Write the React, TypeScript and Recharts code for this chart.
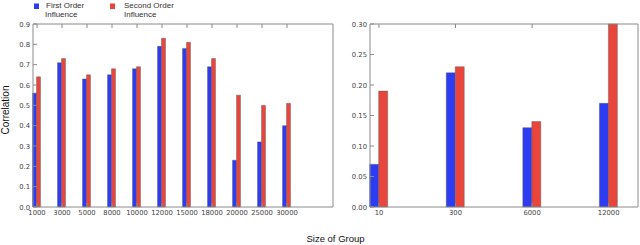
import React from "react";
import { BarChart, Bar, XAxis, YAxis } from "recharts";

// left panel: large groups
const bigGroups = ["1000", "3000", "5000", "8000", "10000", "12000", "15000", "18000", "20000", "25000", "30000"];
const bigFirst = [0.56, 0.71, 0.63, 0.65, 0.68, 0.79, 0.78, 0.69, 0.23, 0.32, 0.4];
const bigSecond = [0.64, 0.73, 0.65, 0.68, 0.69, 0.83, 0.81, 0.73, 0.55, 0.5, 0.51];
const bigTicks = [0, 0.1, 0.2, 0.3, 0.4, 0.5, 0.6, 0.7, 0.8, 0.9];

// right panel: small groups
const smallGroups = ["10", "300", "6000", "12000"];
const smallFirst = [0.07, 0.22, 0.13, 0.17];
const smallSecond = [0.19, 0.23, 0.14, 0.3];
const smallTicks = [0, 0.05, 0.1, 0.15, 0.2, 0.25, 0.3];

const BLUE = "#2b3cf2";
const RED = "#e8463c";
const FRAME = "#8a8a8a";
const TICK_FONT = "'DejaVu Sans', sans-serif";
const LABEL_FONT = "'Liberation Sans', Arial, sans-serif";

const bigData = bigGroups.map((g, i) => ({ pos: i + 0.16, group: g, first: bigFirst[i], second: bigSecond[i] }));
const smallData = smallGroups.map((g, i) => ({ pos: i + 0.117, group: g, first: smallFirst[i], second: smallSecond[i] }));

const axisLine = { stroke: FRAME, strokeWidth: 1 };

function makeYTick(plotLeft: number, digits: number) {
  return (props: any) => {
    const { y, payload } = props;
    return (
      <g>
        <line x1={plotLeft} x2={plotLeft + 4} y1={y} y2={y} stroke={FRAME} strokeWidth={1} />
        <text x={plotLeft - 3} y={y + 2.5} textAnchor="end" fontSize={6.8} fill="#444" fontFamily={TICK_FONT}>
          {Number(payload.value).toFixed(digits)}
        </text>
      </g>
    );
  };
}

function makeRightTick(plotRight: number) {
  return (props: any) => {
    const { y } = props;
    return <line x1={plotRight - 4} x2={plotRight} y1={y} y2={y} stroke={FRAME} strokeWidth={1} />;
  };
}

function makeXTick(plotBottom: number, labels: string[], shift: number) {
  return (props: any) => {
    const { x, payload } = props;
    const idx = Math.round(payload.value - shift);
    return (
      <g>
        <line x1={x} x2={x} y1={plotBottom} y2={plotBottom - 4} stroke={FRAME} strokeWidth={1} />
        <text x={x} y={plotBottom + 8} textAnchor="middle" fontSize={6.8} fill="#444" fontFamily={TICK_FONT}>
          {labels[idx]}
        </text>
      </g>
    );
  };
}

function makeTopTick(plotTop: number) {
  return (props: any) => {
    const { x } = props;
    return <line x1={x} x2={x} y1={plotTop} y2={plotTop + 4} stroke={FRAME} strokeWidth={1} />;
  };
}

export default function App() {
  const bigPos = bigData.map((d) => d.pos);
  const smallPos = smallData.map((d) => d.pos);
  return (
    <div style={{ position: "absolute", left: 0, top: 0, width: 640, height: 245, background: "#fff" }}>
      <div style={{ position: "absolute", left: 0, top: 0 }}>
        <BarChart width={340} height={245} data={bigData} margin={{ top: 14, right: 2, left: 0, bottom: 18 }} barGap={0}>
          <XAxis
            dataKey="pos"
            type="number"
            domain={[0, 12]}
            ticks={bigPos}
            interval={0}
            height={20}
            axisLine={axisLine}
            tickLine={false}
            tick={makeXTick(207, bigGroups, 0.16)}
          />
          <XAxis
            xAxisId="top"
            orientation="top"
            dataKey="pos"
            type="number"
            domain={[0, 12]}
            ticks={bigPos}
            interval={0}
            height={10}
            axisLine={axisLine}
            tickLine={false}
            tick={makeTopTick(24)}
          />
          <YAxis
            domain={[0, 0.9]}
            ticks={bigTicks}
            interval={0}
            width={33}
            axisLine={axisLine}
            tickLine={false}
            tick={makeYTick(33, 1)}
          />
          <YAxis
            yAxisId="r"
            orientation="right"
            domain={[0, 0.9]}
            ticks={bigTicks}
            interval={0}
            width={5}
            axisLine={axisLine}
            tickLine={false}
            tick={makeRightTick(333)}
          />
          <Bar dataKey="first" fill={BLUE} stroke="#555" strokeWidth={0.4} barSize={4} isAnimationActive={false} />
          <Bar dataKey="second" fill={RED} stroke="#555" strokeWidth={0.4} barSize={4} isAnimationActive={false} />
        </BarChart>
      </div>
      <div style={{ position: "absolute", left: 320, top: 0 }}>
        <BarChart width={320} height={245} data={smallData} margin={{ top: 14, right: 0, left: 0, bottom: 18 }} barGap={0}>
          <XAxis
            dataKey="pos"
            type="number"
            domain={[0, 3.5]}
            ticks={smallPos}
            interval={0}
            height={20}
            axisLine={axisLine}
            tickLine={false}
            tick={makeXTick(207, smallGroups, 0.117)}
          />
          <XAxis
            xAxisId="top"
            orientation="top"
            dataKey="pos"
            type="number"
            domain={[0, 3.5]}
            ticks={smallPos}
            interval={0}
            height={10}
            axisLine={axisLine}
            tickLine={false}
            tick={makeTopTick(24)}
          />
          <YAxis
            domain={[0, 0.3]}
            ticks={smallTicks}
            interval={0}
            width={50}
            axisLine={axisLine}
            tickLine={false}
            tick={makeYTick(50, 2)}
          />
          <YAxis
            yAxisId="r"
            orientation="right"
            domain={[0, 0.3]}
            ticks={smallTicks}
            interval={0}
            width={2}
            axisLine={axisLine}
            tickLine={false}
            tick={makeRightTick(318)}
          />
          <Bar dataKey="first" fill={BLUE} stroke="#555" strokeWidth={0.4} barSize={9} isAnimationActive={false} />
          <Bar dataKey="second" fill={RED} stroke="#555" strokeWidth={0.4} barSize={9} isAnimationActive={false} />
        </BarChart>
      </div>
      <svg width={640} height={245} style={{ position: "absolute", left: 0, top: 0, pointerEvents: "none" }}>
        <rect x={34} y={3.5} width={5} height={5.5} fill={BLUE} />
        <text x={46} y={7.5} fontSize={8} fill="#333" fontFamily={LABEL_FONT}>First Order</text>
        <text x={45} y={16.5} fontSize={8} fill="#333" fontFamily={LABEL_FONT}>Influence</text>
        <rect x={110} y={3.5} width={5} height={5.5} fill={RED} />
        <text x={124} y={7.5} fontSize={8} fill="#333" fontFamily={LABEL_FONT}>Second Order</text>
        <text x={124} y={16.5} fontSize={8} fill="#333" fontFamily={LABEL_FONT}>Influence</text>
        <text x={0} y={0} transform="translate(9,110) rotate(-90)" textAnchor="middle" fontSize={10} fill="#111" fontFamily={LABEL_FONT}>
          Correlation
        </text>
        <text x={335.5} y={242} textAnchor="middle" fontSize={9.5} fill="#111" fontFamily={LABEL_FONT}>
          Size of Group
        </text>
      </svg>
    </div>
  );
}
